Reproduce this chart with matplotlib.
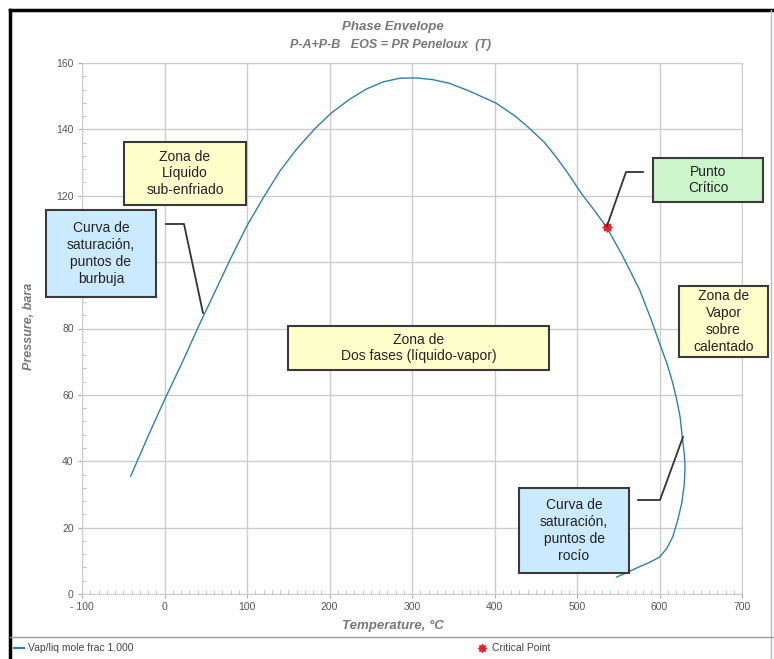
import numpy as np
import matplotlib.pyplot as plt
from matplotlib.patches import Rectangle
from matplotlib.lines import Line2D
import matplotlib.transforms as mtransforms

plt.rcParams['font.family'] = ['Liberation Sans', 'DejaVu Sans']
plt.rcParams['axes.unicode_minus'] = False

# phase envelope (temperature degC, pressure bara)
temps = [-41, -20, 0, 21, 41, 61, 81, 100, 120, 140, 160, 183, 202, 224, 245,
         265, 285, 305, 325, 345, 370, 402, 425, 442, 460, 475, 490, 505, 521,
         536, 555, 576, 590, 600, 609, 616, 621, 625, 628, 630, 631, 630, 627,
         622, 616, 609, 600, 586, 572, 560, 548]
press = [35.5, 47.5, 58.5, 69.5, 80.5, 91, 101.5, 111, 119.5, 127.5, 134, 140.4,
         144.9, 149, 152.2, 154.3, 155.4, 155.5, 155, 153.9, 151.5, 147.9, 144,
         140.4, 136.2, 131.6, 126.4, 120.8, 115.6, 110.5, 102, 91.6, 82.6, 75.6,
         69.5, 63.6, 58.4, 53.3, 46.4, 42.3, 38.3, 33, 27.4, 22.2, 17.2, 13.8,
         11.1, 9.3, 7.8, 6.4, 5.1]
crit_T = [536]
crit_P = [110.5]

x_ticks = [-100, 0, 100, 200, 300, 400, 500, 600, 700]
x_labels = ['- 100', '0', '100', '200', '300', '400', '500', '600', '700']
y_ticks = [0, 20, 40, 60, 80, 100, 120, 140, 160]
y_labels = ['0', '20', '40', '60', '80', '', '120', '140', '160']

W, H = 774, 659
fig = plt.figure(figsize=(W / 100, H / 100), dpi=100)
# pixel coords, origin top-left
px = mtransforms.Affine2D().scale(1 / W, -1 / H).translate(0, 1) + fig.transFigure

ax = fig.add_axes([82 / W, 1 - 594 / H, (742 - 82) / W, (594 - 63) / H])
ax.plot(temps, press, color='#2f7fb0', lw=1.0, zorder=3)
ax.plot(crit_T, crit_P, ls='none', marker=(8, 1, 0), ms=7, color='#e8202a', zorder=4)

ax.set_xlim(-100, 700)
ax.set_ylim(0, 160)
ax.set_xticks(x_ticks)
ax.set_xticklabels(x_labels)
ax.set_yticks(y_ticks)
ax.set_yticklabels(y_labels)
ax.set_xticks(np.arange(-100, 701, 10), minor=True)
ax.set_yticks(np.arange(0, 161, 4), minor=True)
ax.grid(True, which='major', color='#cccccc', lw=1.0)
for s in ax.spines.values():
    s.set_color('#cccccc')
ax.tick_params(which='major', direction='out', length=3, color='#aaaaaa',
               labelsize=7.5, labelcolor='#555555', pad=3)
ax.tick_params(which='minor', direction='in', length=3, color='#bbbbbb')
ax.set_axisbelow(True)

lab = dict(fontweight='bold', fontstyle='italic', color='#777777')
fig.text(393, 626, 'Temperature, °C', transform=px, ha='center', va='center',
         fontsize=9.5, **lab)
fig.text(29, 326, 'Pressure, bara', transform=px, ha='center', va='center',
         rotation=90, fontsize=9, **lab)

fig.text(393, 27, 'Phase Envelope', transform=px, ha='center', va='center',
         fontsize=9.5, **lab)
fig.text(391, 45, 'P-A+P-B   EOS = PR Peneloux  (T)', transform=px,
         ha='center', va='center', fontsize=9, **lab)


def box(x0, y0, x1, y1, text, fc):
    fig.patches.append(Rectangle((x0, y0), x1 - x0, y1 - y0, transform=px,
                                 fc=fc, ec='#3a3a3a', lw=1.5, zorder=5))
    fig.text((x0 + x1) / 2, (y0 + y1) / 2, text, transform=px, ha='center',
             va='center', fontsize=10, color='#222222', linespacing=1.25, zorder=6)


def leader(xs, ys):
    fig.lines.append(Line2D(xs, ys, transform=px, color='#333333', lw=1.3, zorder=5))


yellow = '#ffffcc'
blue = '#cceaff'
green = '#ccf5cc'

box(124, 142, 246, 205, 'Zona de\nLíquido\nsub-enfriado', yellow)
box(46, 210, 156, 297, 'Curva de\nsaturación,\npuntos de\nburbuja', blue)
leader([166, 184, 203], [224, 224, 313])
box(653, 158, 763, 202, 'Punto\nCrítico', green)
leader([643, 626, 607], [172, 172, 226])
box(679, 286, 768, 357, 'Zona de\nVapor\nsobre\ncalentado', yellow)
box(288, 326, 549, 370, 'Zona de\nDos fases (líquido-vapor)', yellow)
box(519, 488, 629, 573, 'Curva de\nsaturación,\npuntos de\nrocío', blue)
leader([638, 660, 683], [500, 500, 437])

# outer frame and legend strip
fig.lines.append(Line2D([10, 10], [10, H], transform=px, color='black', lw=2.5))
fig.lines.append(Line2D([10, W], [10, 10], transform=px, color='black', lw=2.5))
fig.lines.append(Line2D([W - 3, W - 3], [10, H], transform=px, color='#bbbbbb', lw=1))
fig.lines.append(Line2D([10, W], [637, 637], transform=px, color='#999999', lw=1))

fig.lines.append(Line2D([14, 24], [648, 648], transform=px, color='#2f7fb0', lw=1.5))
fig.text(28, 648, 'Vap/liq mole frac 1.000', transform=px, va='center',
         fontsize=7.5, color='#444444')
fig.lines.append(Line2D([482], [648], transform=px, ls='none', marker=(8, 1, 0),
                        ms=6, color='#e8202a'))
fig.text(492, 648, 'Critical Point', transform=px, va='center',
         fontsize=7.5, color='#444444')

fig.savefig('out.png', dpi=100)
